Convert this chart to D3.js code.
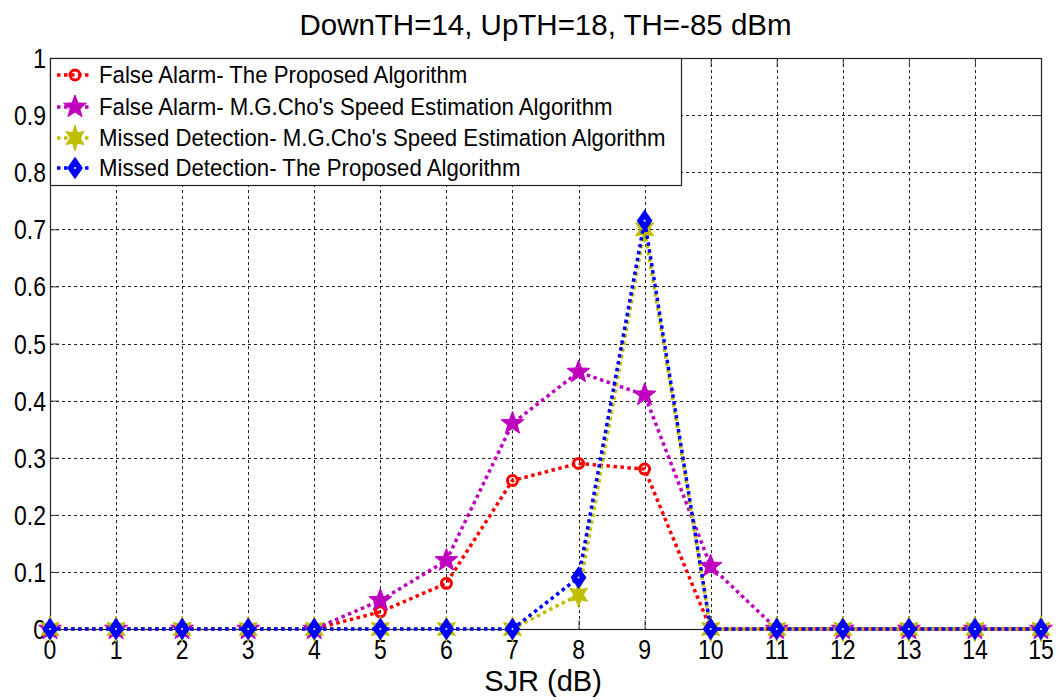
<!DOCTYPE html>
<html>
<head>
<meta charset="utf-8">
<script src="https://cdn.jsdelivr.net/npm/d3@7"></script>
<style>
  html, body { margin: 0; padding: 0; background: #fff; }
  svg { display: block; font-family: "Liberation Sans", Arial, sans-serif; }
</style>
</head>
<body>
<svg id="chart" width="1059" height="700"></svg>
<script>
// SJR values on the x axis (dB)
const sjr = [0, 1, 2, 3, 4, 5, 6, 7, 8, 9, 10, 11, 12, 13, 14, 15];

// Probabilities per algorithm
const faProposed = [0, 0, 0, 0, 0, 0.03, 0.08, 0.26, 0.29, 0.28, 0, 0, 0, 0, 0, 0];
const faCho      = [0, 0, 0, 0, 0, 0.05, 0.12, 0.36, 0.45, 0.41, 0.11, 0, 0, 0, 0, 0];
const mdCho      = [0, 0, 0, 0, 0, 0, 0, 0, 0.06, 0.70, 0, 0, 0, 0, 0, 0];
const mdProposed = [0, 0, 0, 0, 0, 0, 0, 0, 0.09, 0.715, 0, 0, 0, 0, 0, 0];

const xTicks = [0, 1, 2, 3, 4, 5, 6, 7, 8, 9, 10, 11, 12, 13, 14, 15];
const yTicks = [0, 0.1, 0.2, 0.3, 0.4, 0.5, 0.6, 0.7, 0.8, 0.9, 1];

const seriesNames = [
  "False Alarm- The Proposed Algorithm",
  "False Alarm- M.G.Cho's Speed Estimation Algorithm",
  "Missed Detection- M.G.Cho's Speed Estimation Algorithm",
  "Missed Detection- The Proposed Algorithm"
];
const seriesValues = [faProposed, faCho, mdCho, mdProposed];
const seriesColors = ["#ff0000", "#bf00bf", "#bfbf00", "#0000ff"];
const seriesMarkers = ["circle", "pentagram", "hexagram", "diamond"];

const svg = d3.select("#chart");
const plot = { left: 50, right: 1041, top: 58, bottom: 629 };

const x = d3.scaleLinear().domain([0, 15]).range([plot.left, plot.right]);
const y = d3.scaleLinear().domain([0, 1]).range([plot.bottom, plot.top]);

function stretchedText(g, px, py, str, size, anchor, sy) {
  return g.append("text")
    .attr("transform", `translate(${px},${py}) scale(1,${sy || 1})`)
    .attr("text-anchor", anchor)
    .attr("font-size", size)
    .attr("fill", "#000")
    .text(str);
}

// grid
const grid = svg.append("g").attr("stroke", "#222").attr("stroke-width", 1)
  .attr("stroke-dasharray", "3,3").attr("shape-rendering", "crispEdges");
grid.selectAll(".gx").data(xTicks.slice(1, -1)).join("line")
  .attr("x1", d => Math.round(x(d)) + 0.5).attr("x2", d => Math.round(x(d)) + 0.5)
  .attr("y1", plot.top).attr("y2", plot.bottom);
grid.selectAll(".gy").data(yTicks.slice(1, -1)).join("line")
  .attr("y1", d => Math.round(y(d)) + 0.5).attr("y2", d => Math.round(y(d)) + 0.5)
  .attr("x1", plot.left).attr("x2", plot.right);

// axes (ticks pointing inward, on all four sides)
const tl = 9;
const axB = svg.append("g").attr("transform", `translate(0,${plot.bottom})`)
  .call(d3.axisBottom(x).tickValues(xTicks).tickSizeInner(-tl).tickSizeOuter(0).tickFormat(() => ""));
const axT = svg.append("g").attr("transform", `translate(0,${plot.top})`)
  .call(d3.axisTop(x).tickValues(xTicks).tickSizeInner(-tl).tickSizeOuter(0).tickFormat(() => ""));
const axL = svg.append("g").attr("transform", `translate(${plot.left},0)`)
  .call(d3.axisLeft(y).tickValues(yTicks).tickSizeInner(-tl).tickSizeOuter(0).tickFormat(() => ""));
const axR = svg.append("g").attr("transform", `translate(${plot.right},0)`)
  .call(d3.axisRight(y).tickValues(yTicks).tickSizeInner(-tl).tickSizeOuter(0).tickFormat(() => ""));
[axB, axT, axL, axR].forEach(a => {
  a.selectAll(".domain").remove();
  a.selectAll(".tick line").attr("stroke", "#333").attr("stroke-width", 1);
});

// frame
svg.append("rect")
  .attr("x", plot.left + 0.5).attr("y", plot.top + 0.5)
  .attr("width", plot.right - plot.left).attr("height", plot.bottom - plot.top)
  .attr("fill", "none").attr("stroke", "#222").attr("stroke-width", 1.2);

// tick labels
const labels = svg.append("g");
xTicks.forEach(t => stretchedText(labels, x(t), 659, String(t), 23, "middle", 1.18));
yTicks.forEach(t => stretchedText(labels, 46, y(t) + 10, d3.format("~g")(t), 23, "end", 1.18));

// title and axis label
stretchedText(svg, (plot.left + plot.right) / 2, 35, "DownTH=14, UpTH=18, TH=-85 dBm", 29.5, "middle");
stretchedText(svg, 543, 691, "SJR (dB)", 29, "middle");

// marker shapes
function starPath(points, outer, inner, sx, sy) {
  const pts = [];
  for (let i = 0; i < points * 2; i++) {
    const r = i % 2 === 0 ? outer : inner;
    const a = -Math.PI / 2 + i * Math.PI / points;
    pts.push([Math.cos(a) * r * sx, Math.sin(a) * r * sy]);
  }
  return "M" + pts.map(p => p.join(",")).join("L") + "Z";
}
function drawMarker(g, kind, color, cx, cy) {
  if (kind === "circle") {
    g.append("circle").attr("cx", cx).attr("cy", cy).attr("r", 5)
      .attr("fill", "none").attr("stroke", color).attr("stroke-width", 3);
  } else if (kind === "pentagram") {
    g.append("path").attr("transform", `translate(${cx},${cy})`)
      .attr("d", starPath(5, 12, 5, 1, 1)).attr("fill", color).attr("stroke", color).attr("stroke-width", 1);
  } else if (kind === "hexagram") {
    g.append("path").attr("transform", `translate(${cx},${cy})`)
      .attr("d", starPath(6, 13, 6, 0.8, 1)).attr("fill", color).attr("stroke", color).attr("stroke-width", 1);
  } else if (kind === "diamond") {
    g.append("path").attr("transform", `translate(${cx},${cy})`)
      .attr("d", "M0,-10L7,0L0,10L-7,0Z").attr("fill", color).attr("stroke", color).attr("stroke-width", 1.5);
    g.append("circle").attr("cx", cx).attr("cy", cy).attr("r", 1).attr("fill", "#fff");
  }
}

// series lines and markers
const line = d3.line().x((d, i) => x(sjr[i])).y(d => y(d));
seriesValues.forEach((vals, k) => {
  const g = svg.append("g");
  g.append("path").datum(vals).attr("d", line)
    .attr("fill", "none").attr("stroke", seriesColors[k]).attr("stroke-width", 3.5)
    .attr("stroke-dasharray", "3.5,3.5");
  vals.forEach((v, i) => drawMarker(g, seriesMarkers[k], seriesColors[k], x(sjr[i]), y(v)));
});

// legend
const leg = svg.append("g");
leg.append("rect").attr("x", plot.left + 0.5).attr("y", plot.top + 0.5)
  .attr("width", 631).attr("height", 127)
  .attr("fill", "#fff").attr("stroke", "#222").attr("stroke-width", 1.2);
const rowY = [75, 107, 138, 168];
seriesNames.forEach((name, k) => {
  leg.append("line").attr("x1", 57).attr("x2", 91).attr("y1", rowY[k]).attr("y2", rowY[k])
    .attr("stroke", seriesColors[k]).attr("stroke-width", 3.5).attr("stroke-dasharray", "3.5,3.5");
  drawMarker(leg, seriesMarkers[k], seriesColors[k], 75, rowY[k]);
  stretchedText(leg, 99, rowY[k] + 8, name, 22.2, "start", 1.05);
});
</script>
</body>
</html>
